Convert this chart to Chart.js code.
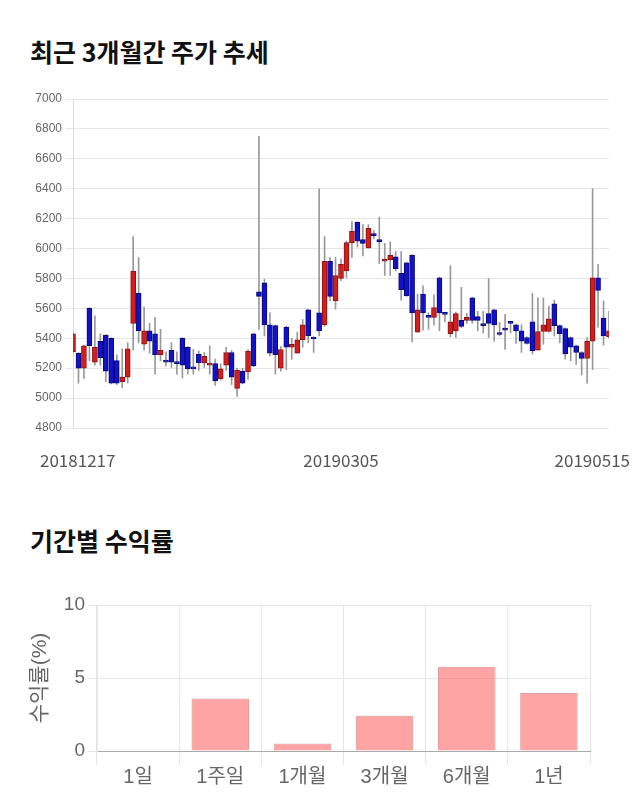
<!DOCTYPE html>
<html>
<head>
<meta charset="utf-8">
<script src="https://cdn.jsdelivr.net/npm/chart.js@4.4.1/dist/chart.umd.min.js"></script>
<style>
body { margin:0; background:#fff; width:640px; height:810px; position:relative; overflow:hidden; font-family:'Noto Sans CJK KR', sans-serif; }
.title { position:absolute; left:30px; font-size:25px; font-weight:bold; color:#111; line-height:30px; }
#t1 { top:36px; }
#t2 { top:525px; }
#priceChart { position:absolute; left:0; top:80px; }
#returnChart { position:absolute; left:0; top:580px; }
</style>
</head>
<body>
<div class="title" id="t1">최근 3개월간 주가 추세</div>
<div class="title" id="t2">기간별 수익률</div>
<canvas id="priceChart" width="640" height="400"></canvas>
<canvas id="returnChart" width="640" height="230"></canvas>
<script>
// ----------------------------------------------------------
// DATA
// ----------------------------------------------------------

// trading days (KRX), 2018-12-17 .. 2019-05-15
const dates = [
    "20181217","20181218","20181219","20181220","20181221","20181224","20181226","20181227","20181228",
    "20190102","20190103","20190104","20190107","20190108","20190109","20190110","20190111","20190114","20190115",
    "20190116","20190117","20190118","20190121","20190122","20190123","20190124","20190125","20190128","20190129",
    "20190130","20190131",
    "20190201","20190207","20190208","20190211","20190212","20190213","20190214","20190215","20190218","20190219",
    "20190220","20190221","20190222","20190225","20190226","20190227","20190228",
    "20190304","20190305","20190306","20190307","20190308","20190311","20190312","20190313","20190314","20190315",
    "20190318","20190319","20190320","20190321","20190322","20190325","20190326","20190327","20190328","20190329",
    "20190401","20190402","20190403","20190404","20190405","20190408","20190409","20190410","20190411","20190412",
    "20190415","20190416","20190417","20190418","20190419","20190422","20190423","20190424","20190425","20190426",
    "20190429","20190430",
    "20190502","20190503","20190507","20190508","20190509","20190510","20190513","20190514","20190515"
];

const shownDates = ["20181217", "20190305", "20190515"];

const opens = [
    5310,5300,5200,5600,5240,5380,5420,5400,5250,5110,
    5140,5500,5700,5360,5450,5430,5290,5245,5320,5240,
    5400,5340,5200,5295,5235,5220,5230,5130,5220,5305,
    5065,5180,5175,5430,5710,5770,5490,5485,5200,5475,
    5340,5300,5390,5590,5405,5570,5490,5915,5650,5800,
    5850,6040,6175,6060,6005,6100,6060,5915,5925,5945,
    5835,5905,5955,5440,5695,5545,5540,5805,5570,5430,
    5450,5520,5520,5670,5545,5495,5565,5590,5430,5460,
    5505,5490,5450,5405,5510,5320,5445,5445,5630,5485,
    5465,5405,5350,5305,5265,5380,5805,5535,5410
];
const closes = [
    5430,5200,5350,5350,5340,5270,5180,5100,5100,5140,
    5330,5850,5450,5450,5380,5290,5320,5240,5240,5230,
    5220,5195,5195,5235,5280,5232,5115,5195,5305,5140,
    5185,5100,5315,5215,5680,5490,5300,5290,5325,5340,
    5360,5390,5490,5415,5395,5450,5915,5680,5820,5895,
    6040,6115,6050,6035,6135,6085,6045,5925,5955,5865,
    5725,5685,5570,5590,5570,5540,5605,5570,5560,5510,
    5565,5480,5540,5520,5520,5485,5500,5490,5425,5455,
    5500,5450,5380,5365,5315,5445,5490,5530,5485,5430,
    5295,5340,5305,5265,5380,5805,5720,5415,5450
];
const highs = [
    5440,5305,5355,5605,5550,5430,5425,5405,5290,5330,
    5370,6080,5940,5610,5500,5540,5460,5310,5370,5310,
    5405,5345,5325,5315,5305,5350,5260,5230,5340,5320,
    5200,5200,5325,5435,6750,5795,5570,5490,5345,5480,
    5400,5440,5525,5595,5410,6400,6080,5940,5940,5930,
    6050,6180,6180,6160,6160,6120,6210,6035,6045,5980,
    5980,5910,5960,5695,5750,5570,5690,5810,5575,5885,
    5575,5740,5565,5675,5580,5580,5800,5595,5505,5560,
    5505,5495,5490,5410,5700,5670,5670,5615,5655,5490,
    5470,5410,5355,5310,5405,6400,5895,5650,5580
];
const lows = [
    5300,5100,5130,5250,5220,5220,5110,5095,5090,5070,
    5100,5320,5370,5320,5300,5160,5250,5215,5205,5160,
    5135,5160,5160,5185,5205,5160,5085,5120,5185,5090,
    5012,5095,5125,5210,5460,5415,5280,5160,5180,5190,
    5260,5300,5340,5370,5305,5415,5480,5650,5595,5785,
    5805,5940,6010,5950,6000,6065,5900,5820,5820,5850,
    5655,5680,5375,5440,5455,5460,5490,5450,5510,5410,
    5405,5470,5500,5500,5450,5435,5405,5380,5415,5325,
    5435,5365,5305,5360,5295,5320,5360,5440,5415,5370,
    5260,5250,5225,5155,5100,5190,5475,5355,5400
];

const periods = ["1일", "1주일", "1개월", "3개월", "6개월", "1년"];
const returns = [0, 3.59, 0.52, 2.41, 5.77, 3.98];


// ----------------------------------------------------------
// STYLE
// ----------------------------------------------------------

Chart.defaults.font.family = "'Liberation Sans', Arial, 'Noto Sans CJK KR', sans-serif";
Chart.defaults.color = "#666";

const upFill = "#d41e1e", upLine = "#8c1212";
const downFill = "#1212c8", downLine = "#0a0a7a";


// ----------------------------------------------------------
// PRICE CHART (candles = floating bars)
// ----------------------------------------------------------

const bodyData = opens.map((o, i) => [o, closes[i]]);
const wickData = lows.map((l, i) => [l, highs[i]]);
const isUp = opens.map((o, i) => closes[i] >= o);

// date labels under the plot, kept inside the canvas
const dateLabels = {
    id: "dateLabels",
    afterDraw(chart)
    {
        const ctx = chart.ctx;
        const xs = chart.scales.x;
        ctx.save();
        ctx.font = "17px 'Noto Sans CJK KR'";
        ctx.fillStyle = "#555";
        ctx.textAlign = "left";
        ctx.textBaseline = "middle";
        shownDates.forEach(d =>
        {
            const w = ctx.measureText(d).width;
            let left = xs.getPixelForValue(dates.indexOf(d)) - w / 2;
            left = Math.max(40, Math.min(chart.width - 10 - w, left));
            ctx.fillText(d, left, chart.chartArea.bottom + 33);
        });
        ctx.restore();
    }
};

new Chart(document.getElementById("priceChart"), {
    type: "bar",
    data: {
        labels: dates,
        datasets: [
            {
                data: bodyData,
                order: 0,
                grouped: false,
                barThickness: 5,
                minBarLength: 2,
                backgroundColor: isUp.map(u => u ? upFill : downFill),
                borderColor: isUp.map(u => u ? upLine : downLine),
                borderWidth: 1,
                borderSkipped: false
            },
            {
                data: wickData,
                order: 1,
                grouped: false,
                barThickness: 1,
                backgroundColor: "#999",
                borderWidth: 0
            }
        ]
    },
    options: {
        responsive: false,
        animation: false,
        events: [],
        layout: { padding: { top: 19, right: 31, bottom: 52, left: 0 } },
        plugins: { legend: { display: false }, tooltip: { enabled: false } },
        scales: {
            x: {
                offset: false,
                ticks: { display: false },
                grid: { display: false, drawTicks: false },
                border: { display: false }
            },
            y: {
                min: 4800,
                max: 7000,
                ticks: { stepSize: 200, font: { size: 12 }, color: "#666", callback: v => String(v) },
                grid: { color: "#e6e6e6", tickLength: 8 },
                border: { color: "#dcdcdc" },
                afterFit: s => { s.width = 73; }
            }
        }
    },
    plugins: [dateLabels]
});


// ----------------------------------------------------------
// RETURNS CHART
// ----------------------------------------------------------

new Chart(document.getElementById("returnChart"), {
    type: "bar",
    data: {
        labels: periods,
        datasets: [{
            data: returns,
            backgroundColor: "rgba(255,99,99,0.58)",
            borderColor: "rgba(200,80,80,0.55)",
            borderWidth: 1,
            barPercentage: 0.7,
            categoryPercentage: 1
        }]
    },
    options: {
        responsive: false,
        animation: false,
        events: [],
        layout: { padding: { top: 25, right: 50, bottom: 0, left: 25 } },
        plugins: { legend: { display: false }, tooltip: { enabled: false } },
        scales: {
            x: {
                grid: { color: "#e6e6e6", tickLength: 14, offset: true },
                border: { color: "#aaa" },
                ticks: { font: { size: 20 }, color: "#666", padding: 0 },
                afterFit: s => { s.height = 59; }
            },
            y: {
                min: 0,
                max: 10,
                ticks: { stepSize: 5, font: { size: 19 }, color: "#666", padding: 3 },
                grid: { color: "#e6e6e6", tickLength: 9 },
                border: { color: "#e6e6e6" },
                title: { display: true, text: "수익률(%)", color: "#666", font: { size: 21 }, padding: { top: 3, bottom: 0 } },
                afterFit: s => { s.width = 72; }
            }
        }
    }
});
</script>
</body>
</html>
